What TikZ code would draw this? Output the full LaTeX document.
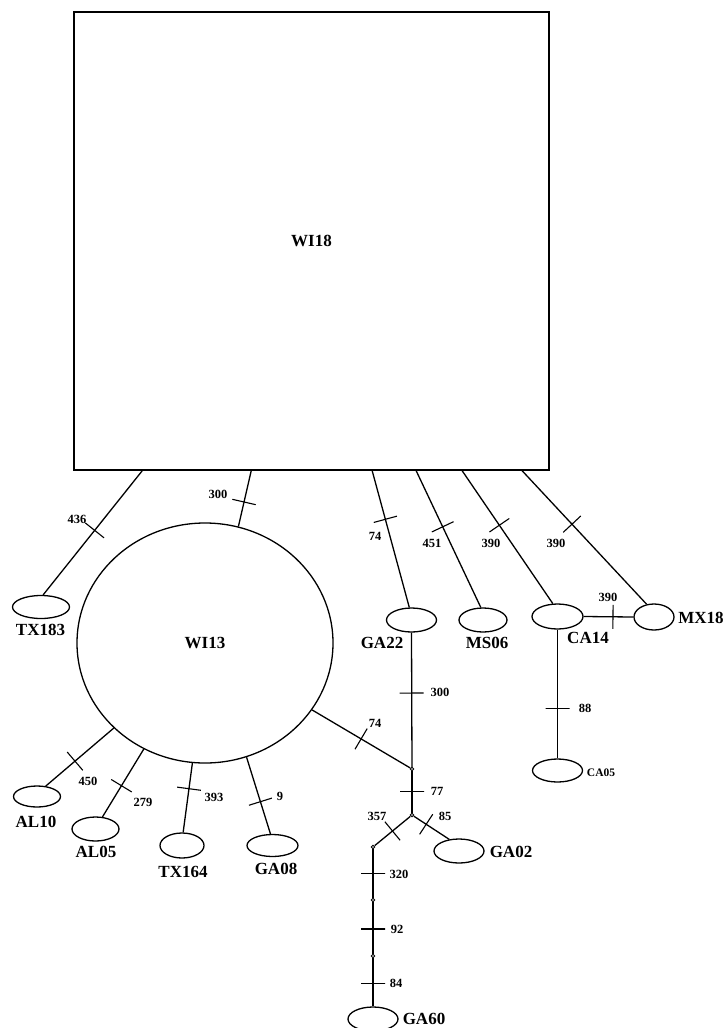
\documentclass[tikz,border=0pt]{standalone}
\usepackage{fontspec}
\setmainfont{Liberation Serif}
\usetikzlibrary{shapes.geometric}

\tikzset{
  hap/.style={ellipse, draw, line width=1.3pt, minimum width=50pt, minimum height=24pt, inner sep=0pt},
  hub/.style={circle, draw, fill=white, line width=0.8pt, inner sep=0pt, minimum size=3.5pt},
  hapname/.style={font=\fontsize{17}{17}\selectfont\bfseries, inner sep=0pt},
  mutnum/.style={font=\fontsize{12.5}{12.5}\selectfont\bfseries, inner sep=0pt},
  mut/.style={draw, sloped, inner sep=0pt, minimum width=0pt, minimum height=24pt, line width=1.1pt},
  branch/.style={line width=1.3pt},
}

\begin{document}
\begin{tikzpicture}[x=1pt, y=-1pt]
\useasboundingbox (0,0) rectangle (728,1028);

% Main haplotypes
\node[draw, line width=1.6pt, minimum width=475pt, minimum height=458pt, hapname] (WI18) at (311.5,241) {WI18};
\node[hap, minimum width=256pt, minimum height=240pt, hapname] (WI13) at (205,643) {WI13};

% Single haplotypes
\node[hap, minimum width=57pt, minimum height=23pt] (TX183) at (41,607) {};
\node[hap] (GA22) at (411.5,620) {};
\node[hap, minimum width=48pt] (MS06) at (483,620) {};
\node[hap, minimum width=51pt, minimum height=25pt] (CA14) at (557.5,616.5) {};
\node[hap, minimum width=40pt, minimum height=26pt] (MX18) at (654,617) {};
\node[hap, minimum height=23pt] (CA05) at (557.5,770.5) {};
\node[hap, minimum width=47pt, minimum height=21pt] (AL10) at (37,796.5) {};
\node[hap, minimum width=47pt] (AL05) at (95.5,829) {};
\node[hap, minimum width=44pt, minimum height=25pt] (TX164) at (182,845.5) {};
\node[hap, minimum width=51pt, minimum height=22pt] (GA08) at (272.5,845.5) {};
\node[hap] (GA02) at (459,851) {};
\node[hap] (GA60) at (373,1019) {};

% Median vectors
\node[hub] (j1) at (412,769) {};
\node[hub] (j2) at (412,815) {};
\node[hub] (j3) at (373,847) {};
\node[hub] (j4) at (373,900) {};
\node[hub] (j5) at (373,956) {};

% Branches from WI18
\draw[branch] ([xshift=69pt]WI18.south west) -- node[mut, pos=.48] {} (TX183.80);
\draw[branch] ([xshift=178pt]WI18.south west) -- node[mut, pos=.56] {} (WI13.74);
\draw[branch] ([xshift=299pt]WI18.south west) -- node[mut, pos=.355] {} (GA22.100);
\draw[branch] ([xshift=343pt]WI18.south west) -- node[mut, pos=.41] {} (MS06.100);
\draw[branch] ([xshift=389pt]WI18.south west) -- node[mut, pos=.41] {} (CA14.110);
\draw[branch] ([xshift=449pt]WI18.south west) -- node[mut, pos=.40] {} (MX18.120);
\draw[branch] (CA14.east) -- node[mut, pos=.59] {} (MX18.west);
\draw[branch] (CA14.south) -- node[mut, pos=.61] {} (CA05.north);

% Branches from WI13
\draw[branch] (WI13.223) -- node[mut, pos=.57] {} (AL10.50);
\draw[branch] (WI13.240) -- node[mut, pos=.54] {} (AL05.60);
\draw[branch] (WI13.264) -- node[mut, pos=.37] {} (TX164.85);
\draw[branch] (WI13.290) -- node[mut, pos=.58] {} (GA08.100);
\draw[branch] (WI13.-32) -- node[mut, pos=.5] {} (j1);

% GA branch
\draw[branch] (GA22.south) -- node[mut, pos=.45] {} (j1);
\draw[branch] (j1) -- node[mut, pos=.48] {} (j2);
\draw[branch] (j2) -- node[mut, pos=.5] {} (j3);
\draw[branch] (j2) -- node[mut, pos=.35] {} (GA02.130);
\draw[branch] (j3) -- node[mut, pos=.5] {} (j4);
\draw[branch] (j4) -- node[mut, pos=.52] {} (j5);
\draw[branch] (j5) -- node[mut, pos=.53] {} (GA60.north);

% Mutation positions
\node[mutnum] (n436) at (77,519) {436};
\node[mutnum] (n300a) at (218,494) {300};
\node[mutnum] (n74a) at (375,536) {74};
\node[mutnum] (n451) at (432,543) {451};
\node[mutnum] (n390a) at (491,543) {390};
\node[mutnum] (n390b) at (556,543) {390};
\node[mutnum] (n390c) at (608,597) {390};
\node[mutnum] (n300b) at (440,692) {300};
\node[mutnum] (n88) at (585,708) {88};
\node[mutnum] (n74b) at (375,723) {74};
\node[mutnum] (n77) at (437,791) {77};
\node[mutnum] (n357) at (377,816) {357};
\node[mutnum] (n85) at (445,816) {85};
\node[mutnum] (n320) at (399,874) {320};
\node[mutnum] (n92) at (397,929) {92};
\node[mutnum] (n84) at (396,983) {84};
\node[mutnum] (n450) at (88,781) {450};
\node[mutnum] (n279) at (143,802) {279};
\node[mutnum] (n393) at (214,797) {393};
\node[mutnum] (n9) at (280,796) {9};

% Haplotype names
\node[hapname] (tTX183) at (40.5,630) {TX183};
\node[hapname] (tGA22) at (382,643) {GA22};
\node[hapname] (tMS06) at (487,643) {MS06};
\node[hapname] (tCA14) at (588,638) {CA14};
\node[hapname] (tMX18) at (701,618) {MX18};
\node[font=\fontsize{11.5}{11.5}\selectfont\bfseries, inner sep=0pt] (tCA05) at (601,773) {CA05};
\node[hapname] (tAL10) at (36,822) {AL10};
\node[hapname] (tAL05) at (96,852) {AL05};
\node[hapname] (tTX164) at (183,872) {TX164};
\node[hapname] (tGA08) at (276,869) {GA08};
\node[hapname] (tGA02) at (511,852) {GA02};
\node[hapname] (tGA60) at (424,1019) {GA60};
\end{tikzpicture}
\end{document}
